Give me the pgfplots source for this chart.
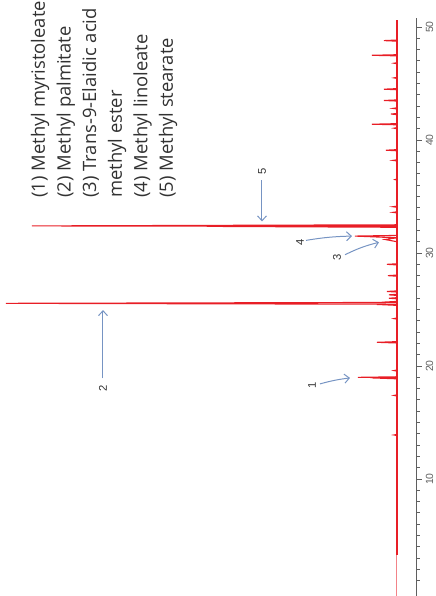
\documentclass[border=0pt]{standalone}
\usepackage{fontspec}
\setmainfont{Open Sans}
\newfontfamily\tickfont{Liberation Sans}
\usepackage{pgfplots}
\pgfplotsset{compat=1.18}
\usetikzlibrary{arrows.meta}
\definecolor{trace}{RGB}{232,30,38}
\definecolor{arr}{RGB}{118,148,195}
\definecolor{axgray}{RGB}{95,95,95}
\definecolor{txt}{RGB}{50,50,50}
\begin{document}
\begin{tikzpicture}
\begin{axis}[
  scale only axis, width=208.5pt, height=289pt,
  x dir=reverse, xmin=-20, xmax=397,
  ymin=-0.35, ymax=50.8,
  axis x line=none, axis y line*=right,
  axis line style={axgray, line width=0.5pt, -},
  ytick={10,20,30,40,50}, minor ytick={1,2,...,49},
  tick align=outside, major tick length=2.4pt, minor tick length=1.4pt,
  every tick/.style={axgray, line width=0.45pt},
  /pgf/number format/assume math mode=true,
  yticklabel style={rotate=90, anchor=north, font=\tickfont\fontsize{5.2}{6}\selectfont, text=axgray, inner sep=1.8pt},
  clip=false,
]
% baseline
\addplot[trace!55, line width=0.5pt] coordinates {(0,-0.35) (0,3.3)};
\addplot[trace, line width=1.3pt] coordinates {(0,3.3) (0,50.6)};
% peaks (intensity, retention time)
\addplot[trace, line width=0.55pt] coordinates {
(0,13.85) (3,13.9) (0,13.95)
(0,17.35) (3,17.4) (0,17.45)
(0,18.87) (25,18.95) (0,18.97) (39,19.0) (0,19.05)
(0,19.55) (3,19.6) (0,19.65)
(0,22.04) (20,22.1) (0,22.16)
(0,24.15) (3,24.2) (0,24.25)
(0,25.37) (20,25.45) (0,25.47) (391,25.55) (0,25.63) (15,25.65) (0,25.72)
(0,25.95) (8,26.0) (0,26.05)
(0,26.25) (8,26.3) (0,26.35)
(0,26.55) (10,26.6) (0,26.65)
(0,27.95) (9,28.0) (0,28.05)
(0,28.95) (10,29.0) (0,29.05)
(0,31.0) (12,31.2) (0,31.35) (42,31.5) (0,31.56)
(0,32.28) (190,32.36) (0,32.37) (365,32.40) (0,32.50)
(0,33.55) (4,33.6) (0,33.65)
(0,34.05) (4,34.1) (0,34.15)
(0,36.45) (2,36.5) (0,36.55)
(0,38.15) (4,38.2) (0,38.25)
(0,39.05) (11,39.1) (0,39.15)
(0,41.0) (3,41.05) (0,41.1)
(0,41.35) (25,41.4) (0,41.45)
(0,42.25) (6,42.3) (0,42.35)
(0,42.75) (4,42.8) (0,42.85)
(0,43.45) (13,43.5) (0,43.55)
(0,44.45) (13,44.5) (0,44.55)
(0,45.45) (3,45.5) (0,45.55)
(0,46.75) (3,46.8) (0,46.85)
(0,47.45) (25,47.5) (0,47.55)
(0,48.75) (13,48.8) (0,48.85)
};
% annotations
\begin{scope}[arr, line width=0.5pt, >={Straight Barb[length=2.4pt,width=4.5pt]}]
\draw[->] (axis cs:135,36.45) -- (axis cs:135,32.8);
\draw[->] (axis cs:294,18.9) -- (axis cs:294,24.95);
\draw[->] (axis cs:91,31.12) to[bend left=4] (axis cs:45,31.5);
\draw[->] (axis cs:52,29.85) to[bend left=6] (axis cs:18,30.95);
\draw[->] (axis cs:77,18.42) to[bend left=4] (axis cs:47,18.95);
\end{scope}
\begin{scope}[every node/.style={rotate=90, text=txt, font=\tickfont\fontsize{5.6}{6}\selectfont, inner sep=0pt}]
\node at (axis cs:135,37.25) {5};
\node at (axis cs:294,18.05) {2};
\node at (axis cs:97,30.97) {4};
\node at (axis cs:60,29.6) {3};
\node at (axis cs:85,18.3) {1};
\end{scope}
\begin{scope}[every node/.style={rotate=90, anchor=base west, text=txt, font=\fontsize{9.2}{11}\selectfont, inner sep=0pt}]
\node at (axis cs:352,34.87) {(1) Methyl myristoleate};
\node at (axis cs:326.4,34.87) {(2) Methyl palmitate};
\node at (axis cs:300.8,34.87) {(3) Trans-9-Elaidic acid};
\node at (axis cs:275.2,34.87) {methyl ester};
\node at (axis cs:249.6,34.87) {(4) Methyl linoleate};
\node at (axis cs:224,34.87) {(5) Methyl stearate};
\end{scope}
\coordinate (BL) at (axis cs:397,-0.35);
\coordinate (TR) at (axis cs:-20,50.8);
\end{axis}
\pgfresetboundingbox
\path[use as bounding box] (BL) rectangle ([xshift=9pt,yshift=9pt]TR);
\end{tikzpicture}
\end{document}
